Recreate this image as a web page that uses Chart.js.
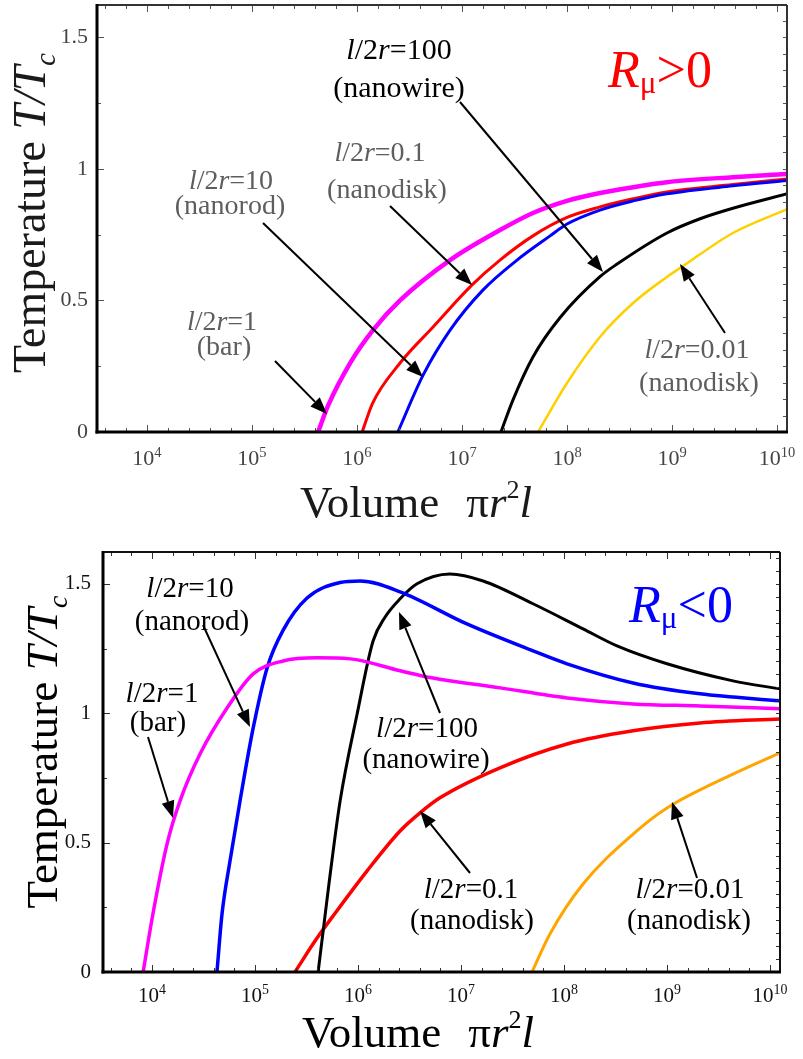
<!DOCTYPE html>
<html><head><meta charset="utf-8">
<script src="https://cdn.jsdelivr.net/npm/chart.js@4.4.1/dist/chart.umd.min.js"></script>
<style>
html,body{margin:0;padding:0;background:#fff;}
#wrap{position:relative;width:803px;height:1059px;overflow:hidden;background:#fff;}
.box{position:absolute;left:0;width:803px;}
#b1{top:0;height:535px;}
#b2{top:535px;height:524px;}
canvas{display:block;}
</style></head><body>
<div id="wrap">
<div class="box" id="b1"><canvas id="c1" width="803" height="535"></canvas></div>
<div class="box" id="b2"><canvas id="c2" width="803" height="524"></canvas></div>
</div>
<script>
// ---------------- DATA ----------------
const xTickExponents = [4, 5, 6, 7, 8, 9, 10];
const yTickValues = [0, 0.5, 1, 1.5];
const yTickLabels = ['0', '0.5', '1', '1.5'];

// Upper panel: R_mu > 0   (volume pi r^2 l, temperature T/Tc)
const upBarV  = [4.26e5, 5.3e5, 8.6e5, 1.42e6, 2.57e6, 7.7e6, 2.3e7, 4.74e7, 1e8, 2.06e8, 4.26e8, 8.95e8, 3.8e9, 1.25e10];
const upBarT  = [0, 0.10, 0.262, 0.387, 0.50, 0.653, 0.767, 0.832, 0.878, 0.908, 0.930, 0.949, 0.968, 0.980];
const upDiskV = [1.12e6, 1.41e6, 2.57e6, 5.3e6, 1.24e7, 2.3e7, 4.74e7, 1e8, 2.06e8, 4.26e8, 8.95e8, 3.8e9, 1.25e10];
const upDiskT = [0, 0.11, 0.262, 0.399, 0.558, 0.653, 0.745, 0.815, 0.855, 0.886, 0.912, 0.940, 0.961];
const upRodV  = [2.45e6, 4.26e6, 7.7e6, 1.58e7, 3.34e7, 6.9e7, 1e8, 2.06e8, 4.26e8, 8.95e8, 3.8e9, 1.25e10];
const upRodT  = [0, 0.216, 0.387, 0.539, 0.653, 0.745, 0.790, 0.843, 0.878, 0.905, 0.935, 0.955];
const upWireV = [2.35e7, 3.06e7, 4.74e7, 8.6e7, 2.06e8, 3e8, 8.95e8, 1.85e9, 3.8e9, 1.25e10];
const upWireT = [0, 0.122, 0.285, 0.435, 0.590, 0.638, 0.756, 0.810, 0.850, 0.905];
const upDisk2V = [5.3e7, 1e8, 2.06e8, 4.26e8, 8.95e8, 1.27e9, 3.8e9, 1.25e10];
const upDisk2T = [0, 0.186, 0.361, 0.490, 0.589, 0.630, 0.756, 0.847];

// Lower panel: R_mu < 0
const loBarV  = [8.2e3, 1.02e4, 1.4e4, 1.87e4, 2.93e4, 5.35e4, 9.6e4, 1.87e5, 4.0e5, 8.4e5, 2.56e6, 5.35e6, 2.4e7, 1.07e8, 4.68e8, 2.09e9, 1.25e10];
const loBarT  = [0, 0.224, 0.495, 0.661, 0.843, 1.02, 1.152, 1.202, 1.214, 1.21, 1.164, 1.136, 1.098, 1.059, 1.036, 1.028, 1.017];
const loRodV  = [4.27e4, 4.78e4, 5.72e4, 7.15e4, 9.6e4, 1.31e5, 1.87e5, 3.2e5, 6.7e5, 1.05e6, 2.56e6, 1.14e7, 5.0e7, 1.07e8, 4.68e8, 2.09e9, 1.25e10];
const loRodT  = [0, 0.224, 0.43, 0.661, 0.943, 1.175, 1.32, 1.445, 1.505, 1.511, 1.469, 1.345, 1.241, 1.191, 1.117, 1.075, 1.048];
const loWireV = [4.1e5, 5.22e5, 6.7e5, 9.8e5, 1.4e6, 1.82e6, 2.56e6, 3.74e6, 7.8e6, 1.64e7, 5.0e7, 1.53e8, 3.27e8, 1e9, 4.37e9, 1.25e10];
const loWireT = [0, 0.34, 0.661, 0.997, 1.279, 1.37, 1.442, 1.5, 1.538, 1.511, 1.423, 1.326, 1.26, 1.191, 1.125, 1.094];
const loDiskV = [2.44e5, 4.0e5, 5.71e5, 1.22e6, 2.56e6, 4.0e6, 6.25e6, 2.39e7, 1.07e8, 4.68e8, 2.09e9, 1.25e10];
const loDiskT = [0, 0.131, 0.216, 0.390, 0.545, 0.615, 0.673, 0.789, 0.881, 0.932, 0.962, 0.978];
const loDisk2V = [4.89e7, 7.3e7, 1.53e8, 4.68e8, 1.0e9, 4.37e9, 1.25e10];
const loDisk2T = [0, 0.147, 0.34, 0.533, 0.634, 0.765, 0.847];

// ---------------- HELPERS ----------------
const FONT = '"Liberation Serif", "Times New Roman", Times, serif';
function pts(V, T) { return V.map((v, i) => ({ x: v, y: T[i] })); }
function fontStr(p, size) { return (p.i ? 'italic ' : '') + (size * (p.s || 1)).toFixed(1) + 'px ' + FONT; }
function richWidth(ctx, parts, size) {
  let w = 0;
  for (const p of parts) { ctx.font = fontStr(p, size); w += ctx.measureText(p.t).width + (p.gap || 0) * size; }
  return w;
}
function drawRich(ctx, parts, x, y, size, color, align) {
  const w = richWidth(ctx, parts, size);
  let cx = align === 'left' ? x : (align === 'right' ? x - w : x - w / 2);
  ctx.fillStyle = color; ctx.textAlign = 'left'; ctx.textBaseline = 'alphabetic';
  for (const p of parts) {
    ctx.font = fontStr(p, size);
    ctx.fillText(p.t, cx, y + (p.dy || 0) * size);
    cx += ctx.measureText(p.t).width + (p.gap || 0) * size;
  }
}
function ratio(val) { return [{ t: 'l', i: 1 }, { t: '/2' }, { t: 'r', i: 1 }, { t: '=' + val }]; }
function arrow(ctx, x1, y1, x2, y2, color) {
  const ang = Math.atan2(y2 - y1, x2 - x1), L = 17, W = 6.5;
  const bx = x2 - L * Math.cos(ang), by = y2 - L * Math.sin(ang);
  ctx.strokeStyle = color; ctx.fillStyle = color; ctx.lineWidth = 2;
  ctx.beginPath(); ctx.moveTo(x1, y1); ctx.lineTo(bx, by); ctx.stroke();
  ctx.beginPath(); ctx.moveTo(x2, y2);
  ctx.lineTo(bx + W * Math.sin(ang), by - W * Math.cos(ang));
  ctx.lineTo(bx - W * Math.sin(ang), by + W * Math.cos(ang));
  ctx.closePath(); ctx.fill();
}

const yTitleParts = [{ t: 'Temperature ' }, { t: 'T/T', i: 1 }, { t: 'c', i: 1, s: 0.62, dy: 0.22 }];
const xTitleParts = [{ t: 'Volume', gap: 0.6 }, { t: 'π' }, { t: 'r', i: 1 }, { t: '2', s: 0.58, dy: -0.42 }, { t: 'l', i: 1 }];

function makePanel(P) {
  const plugin = {
    id: 'deco' + P.id,
    afterDraw(chart) {
      const ctx = chart.ctx, a = chart.chartArea, xs = chart.scales.x, ys = chart.scales.y;
      ctx.save();
      ctx.strokeStyle = P.tickColor; ctx.lineWidth = 1;
      const seg = (x1, y1, x2, y2) => { ctx.beginPath(); ctx.moveTo(x1, y1); ctx.lineTo(x2, y2); ctx.stroke(); };
      for (let e = 3; e <= 10; e++) for (let k = 0; k < 5; k++) {
        const v = Math.pow(10, e + k * 0.2);
        if (v < xs.min || v > xs.max) continue;
        const px = Math.round(xs.getPixelForValue(v)) + 0.5, L = k === 0 ? 7 : 4;
        seg(px, a.bottom, px, a.bottom - L); seg(px, a.top, px, a.top + L);
      }
      for (let i = 0; i * 0.25 <= ys.max + 1e-9; i++) {
        const py = Math.round(ys.getPixelForValue(i * 0.25)) + 0.5, L = i % 2 === 0 ? 7 : 4;
        seg(a.left, py, a.left + L, py);
      }
      for (let i = 0; i * P.rightStep <= ys.max + 1e-9; i++) {
        const py = Math.round(ys.getPixelForValue(i * P.rightStep)) + 0.5;
        seg(a.right, py, a.right - 4, py);
      }
      ctx.strokeStyle = P.frameThin; ctx.lineWidth = 2;
      seg(a.left, a.top, a.right, a.top); seg(a.right, a.top, a.right, a.bottom);
      ctx.strokeStyle = '#000'; ctx.lineWidth = 3;
      seg(a.left, a.top - 1, a.left, a.bottom + 1.5); seg(a.left - 1.5, a.bottom, a.right + 1, a.bottom);
      for (const e of xTickExponents) {
        const px = xs.getPixelForValue(Math.pow(10, e));
        drawRich(ctx, [{ t: '10' }, { t: String(e), s: 0.66, dy: -0.38 }], px, a.bottom + P.xLabelDy, P.tickSize, P.tickLabelColor, 'center');
      }
      ctx.save();
      ctx.translate(P.yTitle.x, P.yTitle.y); ctx.rotate(-Math.PI / 2);
      drawRich(ctx, yTitleParts, 0, 0, P.yTitle.size, P.titleColor, 'center');
      ctx.restore();
      drawRich(ctx, xTitleParts, P.xTitle.x, P.xTitle.y, P.xTitle.size, P.titleColor, 'center');
      for (const t of P.texts) drawRich(ctx, t.parts, t.x, t.y, t.size, t.color, 'center');
      for (const ar of P.arrows) arrow(ctx, ar[0], ar[1], ar[2], ar[3], '#000');
      ctx.restore();
    }
  };
  const datasets = P.series.map(s => ({
    data: pts(s.V, s.T), borderColor: s.color, borderWidth: s.w, pointRadius: 0,
    fill: false, cubicInterpolationMode: 'monotone', borderCapStyle: 'butt', borderJoinStyle: 'round'
  }));
  return new Chart(document.getElementById(P.canvas), {
    type: 'line',
    data: { datasets },
    options: {
      responsive: false, animation: false, events: [],
      layout: { padding: { left: 0, top: P.area.top, right: P.canvasW - P.area.right, bottom: 0 } },
      plugins: { legend: { display: false }, tooltip: { enabled: false }, title: { display: false } },
      scales: {
        x: {
          type: 'logarithmic', min: P.xMin, max: P.xMax,
          grid: { display: false, drawTicks: false }, border: { display: false },
          ticks: { display: false },
          afterFit: s => { s.height = P.canvasH - P.area.bottom; s.paddingLeft = 0; s.paddingRight = 0; }
        },
        y: {
          type: 'linear', min: P.yMin, max: P.yMax,
          grid: { display: false, drawTicks: false }, border: { display: false },
          afterBuildTicks: s => { s.ticks = yTickValues.map(v => ({ value: v })); },
          ticks: {
            padding: P.yLabelPad, color: P.tickLabelColor,
            font: { family: FONT, size: P.tickSize },
            callback: (v, i) => yTickLabels[i]
          },
          afterFit: s => { s.width = P.area.left; s.paddingTop = 0; s.paddingBottom = 0; }
        }
      }
    },
    plugins: [plugin]
  });
}

const GRAY = '#5e5e5e';
makePanel({
  id: 1, canvas: 'c1', canvasW: 803, canvasH: 535,
  area: { left: 97, top: 5, right: 787, bottom: 432 },
  xMin: Math.pow(10, 3.524), xMax: Math.pow(10, 10.095), yMin: 0, yMax: 1.622,
  rightStep: 0.0625, tickColor: '#555', frameThin: '#333',
  tickSize: 22, tickLabelColor: '#444', xLabelDy: 33, yLabelPad: 9,
  titleColor: '#1a1a1a',
  yTitle: { x: 45, y: 213, size: 46 }, xTitle: { x: 416, y: 517, size: 45 },
  series: [
    { V: upBarV, T: upBarT, color: '#ff00ff', w: 4.5 },
    { V: upRodV, T: upRodT, color: '#0000ff', w: 3 },
    { V: upDiskV, T: upDiskT, color: '#ff0000', w: 3 },
    { V: upWireV, T: upWireT, color: '#000000', w: 3 },
    { V: upDisk2V, T: upDisk2T, color: '#ffd000', w: 2.5 }
  ],
  texts: [
    { parts: ratio('100'), x: 399, y: 59, size: 30, color: '#000' },
    { parts: [{ t: '(nanowire)' }], x: 399, y: 97, size: 30, color: '#000' },
    { parts: ratio('0.1'), x: 380, y: 161, size: 28, color: GRAY },
    { parts: [{ t: '(nanodisk)' }], x: 387, y: 198, size: 28, color: GRAY },
    { parts: ratio('10'), x: 231, y: 189, size: 28, color: GRAY },
    { parts: [{ t: '(nanorod)' }], x: 230, y: 214, size: 28, color: GRAY },
    { parts: ratio('1'), x: 222, y: 330, size: 28, color: GRAY },
    { parts: [{ t: '(bar)' }], x: 224, y: 355, size: 28, color: GRAY },
    { parts: ratio('0.01'), x: 697, y: 358, size: 28, color: GRAY },
    { parts: [{ t: '(nanodisk)' }], x: 699, y: 391, size: 28, color: GRAY },
    { parts: [{ t: 'R', i: 1 }, { t: 'μ', s: 0.6, dy: 0.12 }, { t: '>0' }], x: 660, y: 87, size: 52, color: '#ff0000' }
  ],
  arrows: [[460, 102, 603, 272], [390, 206, 472, 285], [263, 223, 423, 377], [275, 361, 327, 414], [725, 333, 680, 264]]
});

makePanel({
  id: 2, canvas: 'c2', canvasW: 803, canvasH: 524,
  area: { left: 103, top: 17, right: 780, bottom: 437 },
  xMin: Math.pow(10, 3.524), xMax: Math.pow(10, 10.097), yMin: 0, yMax: 1.623,
  rightStep: 0.05, tickColor: '#333', frameThin: '#111',
  tickSize: 21, tickLabelColor: '#111', xLabelDy: 30, yLabelPad: 12,
  titleColor: '#000',
  yTitle: { x: 57, y: 217, size: 45 }, xTitle: { x: 418, y: 512, size: 45 },
  series: [
    { V: loBarV, T: loBarT, color: '#ff00ff', w: 3.5 },
    { V: loRodV, T: loRodT, color: '#0000ff', w: 3.5 },
    { V: loWireV, T: loWireT, color: '#000000', w: 3 },
    { V: loDiskV, T: loDiskT, color: '#ff0000', w: 3.5 },
    { V: loDisk2V, T: loDisk2T, color: '#ffa500', w: 3 }
  ],
  texts: [
    { parts: ratio('10'), x: 190, y: 62, size: 29, color: '#000' },
    { parts: [{ t: '(nanorod)' }], x: 192, y: 95, size: 29, color: '#000' },
    { parts: ratio('1'), x: 162, y: 167, size: 29, color: '#000' },
    { parts: [{ t: '(bar)' }], x: 158, y: 196, size: 29, color: '#000' },
    { parts: ratio('100'), x: 427, y: 202, size: 29, color: '#000' },
    { parts: [{ t: '(nanowire)' }], x: 426, y: 233, size: 29, color: '#000' },
    { parts: ratio('0.1'), x: 471, y: 363, size: 29, color: '#000' },
    { parts: [{ t: '(nanodisk)' }], x: 472, y: 394, size: 29, color: '#000' },
    { parts: ratio('0.01'), x: 690, y: 363, size: 29, color: '#000' },
    { parts: [{ t: '(nanodisk)' }], x: 689, y: 394, size: 29, color: '#000' },
    { parts: [{ t: 'R', i: 1 }, { t: 'μ', s: 0.6, dy: 0.12 }, { t: '<0' }], x: 681, y: 87, size: 52, color: '#0000ff' }
  ],
  arrows: [[203, 90, 250, 192], [148, 202, 173, 283], [440, 178, 399, 77], [470, 338, 420, 276], [697, 343, 672, 267]]
});
</script>
</body></html>
